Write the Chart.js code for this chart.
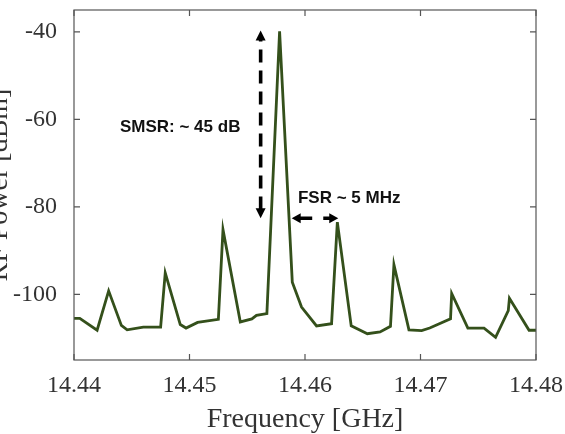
<!DOCTYPE html>
<html><head><meta charset="utf-8">
<script src="https://cdn.jsdelivr.net/npm/chart.js@4.4.1/dist/chart.umd.min.js"></script>
<style>
html,body{margin:0;padding:0;background:#fff;overflow:hidden;width:565px;height:434px}
#wrap{position:absolute;left:-14px;top:0;width:579px;height:434px}
</style></head><body>
<div id="wrap"><canvas id="c" width="579" height="434"></canvas></div>
<script>
// ─── DATA ───────────────────────────────────────────────────────────────────
const freqGHz=[14.4400,14.4405,14.4420,14.4430,14.4441,14.4446,14.4460,14.4475,14.4479,14.4492,14.4497,14.4507,
  14.4525,14.4529,14.4544,14.4554,14.4558,14.4567,14.4578,14.4589,14.4597,14.4610,14.4623,14.4628,14.4640,14.4654,
  14.4665,14.4674,14.4677,14.4690,14.4701,14.4708,14.4726,14.4727,14.4741,14.4755,14.4765,14.4776,14.4777,14.4794,14.4800];
const powerDbm=[-105.5,-105.5,-108.2,-99.2,-107.1,-108.1,-107.5,-107.5,-95.1,-106.9,-107.7,-106.4,
  -105.7,-85.2,-106.3,-105.6,-104.8,-104.4,-39.9,-97.2,-102.9,-107.2,-106.7,-83.5,-107.2,-109.0,
  -108.6,-107.3,-93.2,-108.1,-108.3,-107.7,-105.6,-99.8,-107.7,-107.7,-109.8,-103.7,-100.9,-108.2,-108.2];
const xTicks=[14.44,14.45,14.46,14.47,14.48];
const yTicks=[-100,-80,-60,-40];
const xRange=[14.44,14.48];
const yRange=[-115,-35];
const smsrArrowX=14.45616, smsrArrowY=[-39.7,-82.6];
const fsrArrowX=[14.45885,14.46288], fsrArrowY=-82.6;
const smsrLabel={text:'SMSR: ~ 45 dB',x:14.44398,y:-61.9};
const fsrLabel={text:'FSR ~ 5 MHz',x:14.45939,y:-78.1};

const serif='"Liberation Serif","Times New Roman",serif';
const sans='"Liberation Sans",Arial,sans-serif';

function head(ctx,x1,y1,x2,y2,len,w){
  const a=Math.atan2(y2-y1,x2-x1);
  ctx.beginPath();
  ctx.moveTo(x2,y2);
  ctx.lineTo(x2-len*Math.cos(a)+w*Math.sin(a),y2-len*Math.sin(a)-w*Math.cos(a));
  ctx.lineTo(x2-len*Math.cos(a)-w*Math.sin(a),y2-len*Math.sin(a)+w*Math.cos(a));
  ctx.closePath();ctx.fill();
}

// box, inward ticks, annotations
const decor={id:'decor',afterDatasetsDraw(ch){
  const {ctx,chartArea:a,scales:{x,y}}=ch;
  ctx.save();
  ctx.strokeStyle='#555';ctx.lineWidth=1.2;
  ctx.strokeRect(a.left,a.top,a.right-a.left,a.bottom-a.top);
  ctx.beginPath();
  xTicks.forEach(v=>{const p=x.getPixelForValue(v);ctx.moveTo(p,a.bottom);ctx.lineTo(p,a.bottom-6);ctx.moveTo(p,a.top);ctx.lineTo(p,a.top+6);});
  yTicks.forEach(v=>{const p=y.getPixelForValue(v);ctx.moveTo(a.left,p);ctx.lineTo(a.left+6,p);ctx.moveTo(a.right,p);ctx.lineTo(a.right-6,p);});
  ctx.stroke();

  ctx.fillStyle='#000';ctx.strokeStyle='#000';ctx.lineWidth=3.6;
  // SMSR vertical dashed arrow
  const vx=x.getPixelForValue(smsrArrowX), vt=y.getPixelForValue(smsrArrowY[0]), vb=y.getPixelForValue(smsrArrowY[1]);
  ctx.setLineDash([13,8]);ctx.lineDashOffset=-10;
  ctx.beginPath();ctx.moveTo(vx,vt+9);ctx.lineTo(vx,vb-9);ctx.stroke();
  ctx.setLineDash([]);
  head(ctx,vx,vt+10,vx,vt,10,5);
  head(ctx,vx,vb-10,vx,vb,10,5);
  // FSR horizontal arrows
  const hl=x.getPixelForValue(fsrArrowX[0]), hr=x.getPixelForValue(fsrArrowX[1]), hy=y.getPixelForValue(fsrArrowY);
  ctx.beginPath();ctx.moveTo(hl+7,hy);ctx.lineTo(hl+20.5,hy);ctx.moveTo(hr-15,hy);ctx.lineTo(hr-7,hy);ctx.stroke();
  head(ctx,hl+9,hy,hl,hy,9,5);
  head(ctx,hr-9,hy,hr,hy,9,5);
  // labels
  ctx.font='bold 17px '+sans;ctx.textBaseline='middle';ctx.textAlign='left';ctx.fillStyle='#111';
  ctx.fillText(smsrLabel.text,x.getPixelForValue(smsrLabel.x),y.getPixelForValue(smsrLabel.y));
  ctx.fillText(fsrLabel.text,x.getPixelForValue(fsrLabel.x),y.getPixelForValue(fsrLabel.y));
  ctx.restore();
}};

new Chart(document.getElementById('c'),{
  type:'line',
  data:{datasets:[{label:'RF power',data:freqGHz.map((f,i)=>({x:f,y:powerDbm[i]})),
    borderColor:'#34501b',borderWidth:2.8,pointRadius:0,tension:0,fill:false}]},
  options:{
    responsive:false,animation:false,devicePixelRatio:1,
    layout:{padding:{left:0,top:10,right:29,bottom:0}},
    plugins:{legend:{display:false},tooltip:{enabled:false}},
    scales:{
      x:{type:'linear',min:xRange[0],max:xRange[1],
        afterBuildTicks:s=>{s.ticks=xTicks.map(v=>({value:v}));},
        afterFit:s=>{s.height=74;s.paddingLeft=0;s.paddingRight=0;},
        grid:{display:false},border:{display:false},
        ticks:{color:'#333',padding:3,maxRotation:0,autoSkip:false,font:{family:serif,size:24},callback:v=>v.toFixed(2)},
        title:{display:true,text:'Frequency [GHz]',color:'#333',padding:0,font:{family:serif,size:28,lineHeight:1}}},
      y:{min:yRange[0],max:yRange[1],
        afterBuildTicks:s=>{s.ticks=yTicks.map(v=>({value:v}));},
        afterFit:s=>{s.width=88;s.paddingTop=0;s.paddingBottom=0;},
        grid:{display:false},border:{display:false},
        ticks:{color:'#333',padding:9,autoSkip:false,font:{family:serif,size:24},callback:v=>String(v)},
        title:{display:true,text:'RF Power [dBm]',color:'#333',padding:0,font:{family:serif,size:28,lineHeight:1}}}
    }
  },
  plugins:[decor]
});
</script></body></html>
